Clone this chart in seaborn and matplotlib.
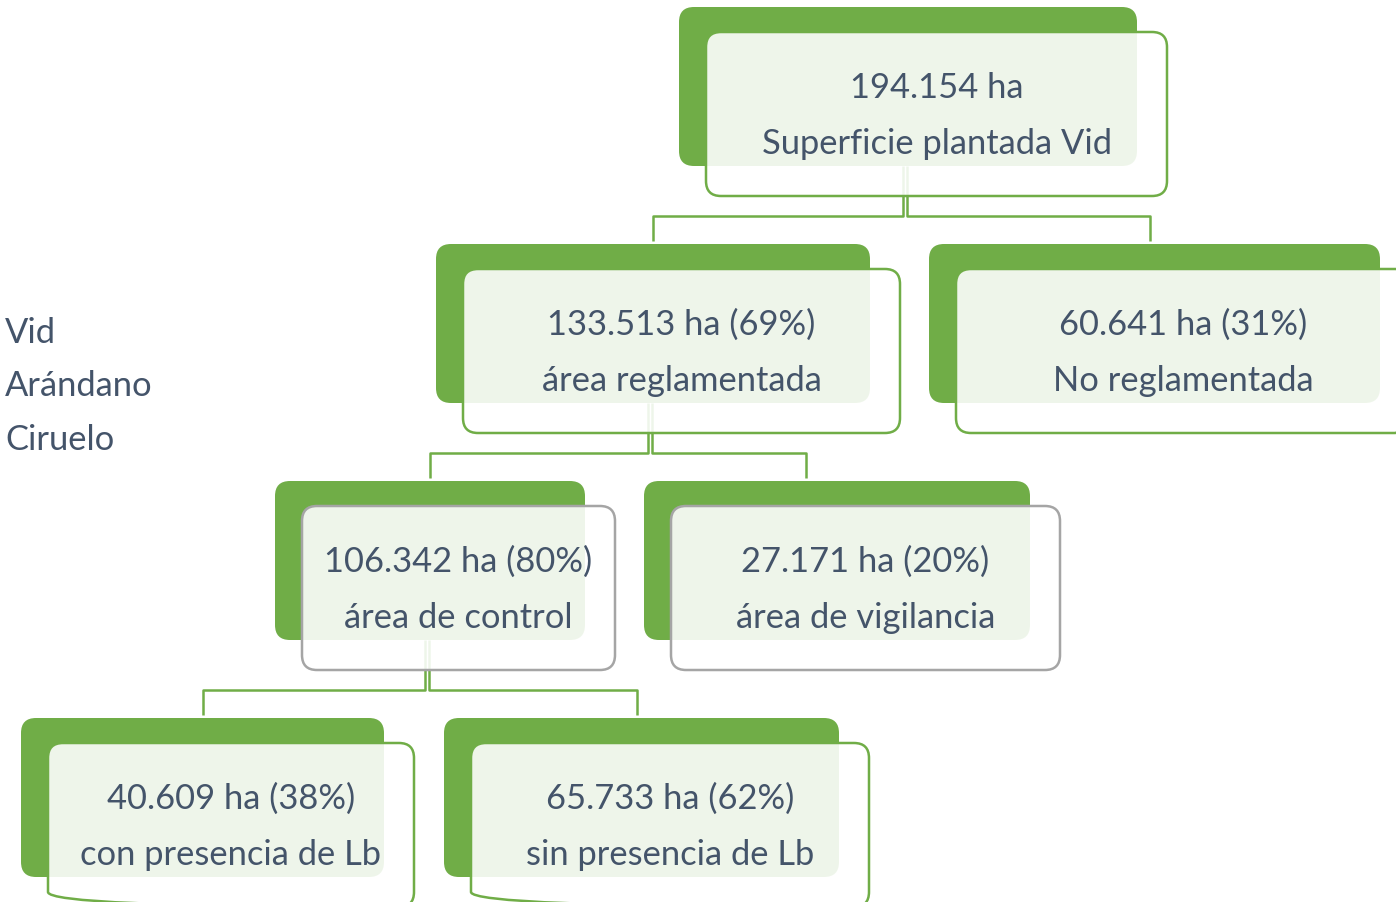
import matplotlib.pyplot as plt
import seaborn as sns
from matplotlib.patches import FancyBboxPatch

# node texts (tree of areas)
areas = ["194.154 ha", "133.513 ha (69%)", "60.641 ha (31%)",
         "106.342 ha (80%)", "27.171 ha (20%)",
         "40.609 ha (38%)", "65.733 ha (62%)"]
descs = ["Superficie plantada Vid", "área reglamentada", "No reglamentada",
         "área de control", "área de vigilancia",
         "con presencia de Lb", "sin presencia de Lb"]
parents = [None, 0, 0, 1, 1, 3, 3]
levels = [0, 1, 1, 2, 2, 3, 3]
cultivos = ["Vid", "Arándano", "Ciruelo"]

# layout (pixels)
box_left = [679, 436, 929, 275, 644, 21, 444]
box_width = [458, 434, 451, 310, 386, 363, 395]
link_x = [None, 653, 1150, 430, 806, 203, 637]
BOX_H, FRONT_H, LEVEL_STEP, TOP0 = 159, 164, 237, 8

GREEN = "#70AD47"
GRAY = "#A5A5A5"
TXT = "#44546A"
FS = 24.8

sns.set_theme(style="white")
plt.rcParams["font.family"] = ["Lato", "DejaVu Sans"]

fig = plt.figure(figsize=(13.96, 9.03), dpi=100)
ax = fig.add_axes([0, 0, 1, 1])
ax.set_xlim(0, 1396)
ax.set_ylim(903, 0)
ax.axis("off")

for i, (a, d) in enumerate(zip(areas, descs)):
    top = TOP0 + LEVEL_STEP * levels[i]
    left, w = box_left[i], box_width[i]
    edge = GRAY if levels[i] == 2 else GREEN

    # connectors to children
    kids = [k for k, p in enumerate(parents) if p == i]
    if kids:
        cx = left + w / 2 - 3
        hy = top + 25 + FRONT_H + 20
        for k in kids:
            off = -2 if link_x[k] < cx else 2
            ctop = TOP0 + LEVEL_STEP * levels[k] - 3
            ax.plot([cx + off, cx + off, link_x[k], link_x[k]],
                    [top + BOX_H, hy, hy, ctop],
                    color=GREEN, lw=1.8, zorder=1, solid_capstyle="butt")

    ax.add_patch(FancyBboxPatch((left, top), w, BOX_H,
                                boxstyle="round,pad=0,rounding_size=15",
                                fc=GREEN, ec="none", zorder=2))
    ax.add_patch(FancyBboxPatch((left + 27, top + 25), w + 3, FRONT_H,
                                boxstyle="round,pad=0,rounding_size=15",
                                fc="white", alpha=0.89, ec="none", zorder=3))
    ax.add_patch(FancyBboxPatch((left + 27, top + 25), w + 3, FRONT_H,
                                boxstyle="round,pad=0,rounding_size=15",
                                fc="none", ec=edge, lw=1.8, zorder=4))

    tx = left + 27 + (w + 3) / 2
    ax.text(tx, top + 25 + 65, a, ha="center", va="baseline",
            fontsize=FS, color=TXT, zorder=5)
    ax.text(tx, top + 25 + 121, d, ha="center", va="baseline",
            fontsize=FS, color=TXT, zorder=5)

for j, c in enumerate(cultivos):
    ax.text(5, 343 + 53.5 * j, c, ha="left", va="baseline",
            fontsize=FS, color=TXT)

fig.savefig("out.png", dpi=100)
